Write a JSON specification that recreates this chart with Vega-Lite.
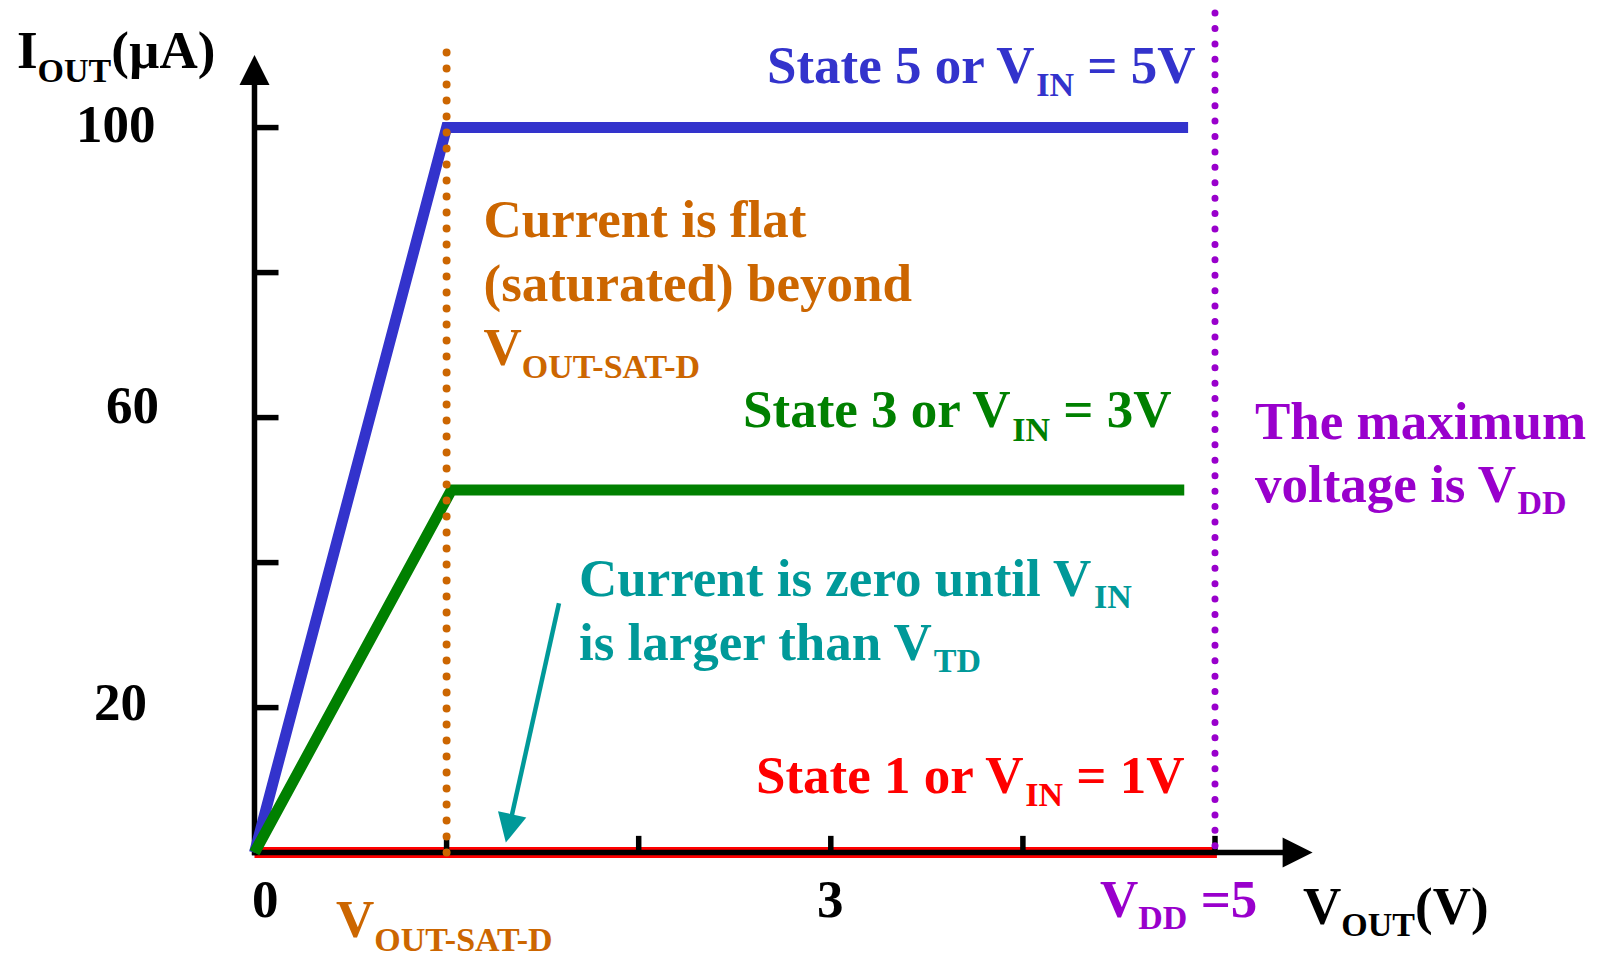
{
  "$schema": "https://vega.github.io/schema/vega-lite/v6.json",
  "autosize": {"type": "fit", "contains": "padding"},
  "width": 1599,
  "height": 958,
  "padding": 0,
  "background": "#ffffff",
  "config": {"view": {"stroke": null}},
  "datasets": {
    "red": [
      {"x": 0, "y": 0, "i": 0, "c": "s1"},
      {"x": 5.01, "y": 0, "i": 1, "c": "s1"}
    ],
    "curves": [
      {"x": 0, "y": 0, "i": 0, "c": "s5"},
      {"x": 1.0, "y": 100, "i": 1, "c": "s5"},
      {"x": 4.86, "y": 100, "i": 2, "c": "s5"},
      {"x": 0, "y": 0, "i": 0, "c": "s3"},
      {"x": 1.025, "y": 50, "i": 1, "c": "s3"},
      {"x": 4.84, "y": 50, "i": 2, "c": "s3"}
    ],
    "axisrules": [
      {"x": 0, "y": -0.35, "x2": 0, "y2": 105.9},
      {"x": -0.013, "y": 0, "x2": 5.36, "y2": 0},
      {"x": 0, "y": 20, "x2": 0.125, "y2": 20},
      {"x": 0, "y": 40, "x2": 0.125, "y2": 40},
      {"x": 0, "y": 60, "x2": 0.125, "y2": 60},
      {"x": 0, "y": 80, "x2": 0.125, "y2": 80},
      {"x": 0, "y": 100, "x2": 0.125, "y2": 100},
      {"x": 1, "y": 0, "x2": 1, "y2": 2.31},
      {"x": 2, "y": 0, "x2": 2, "y2": 2.31},
      {"x": 3, "y": 0, "x2": 3, "y2": 2.31},
      {"x": 4, "y": 0, "x2": 4, "y2": 2.31},
      {"x": 5, "y": 0, "x2": 5, "y2": 2.31}
    ],
    "satline": [{"x": 1.0, "y": 0, "x2": 1.0, "y2": 110.6}],
    "vddline": [{"x": 5.0, "y": 0.94, "x2": 5.0, "y2": 116.1}],
    "yhead": [{"x": 0, "y": 107.95}],
    "xhead": [{"x": 5.43, "y": 0}],
    "tealshaft": [{"x": 1.5851, "y": 34.38, "x2": 1.3248, "y2": 3.38, "c": "zero"}],
    "tealhead": [{"x": 1.3248, "y": 3.33, "c": "zero"}],
    "maintext": [
      {"t": "I", "x": -1.2363, "y": 108.23, "c": "axis"},
      {"t": "(µA)", "x": -0.7454, "y": 108.23, "c": "axis"},
      {"t": "100", "x": -0.9292, "y": 98.07, "c": "axis"},
      {"t": "60", "x": -0.773, "y": 59.24, "c": "axis"},
      {"t": "20", "x": -0.8355, "y": 18.26, "c": "axis"},
      {"t": "0", "x": -0.013, "y": -8.89, "c": "axis"},
      {"t": "3", "x": 2.928, "y": -8.89, "c": "axis"},
      {"t": "V", "x": 5.4581, "y": -9.85, "c": "axis"},
      {"t": "(V)", "x": 6.0411, "y": -9.85, "c": "axis"},
      {"t": "V", "x": 0.4243, "y": -11.64, "c": "sat"},
      {"t": "Current is flat", "x": 1.1921, "y": 84.94, "c": "sat"},
      {"t": "(saturated) beyond", "x": 1.1921, "y": 76.05, "c": "sat"},
      {"t": "V", "x": 1.1921, "y": 67.31, "c": "sat"},
      {"t": "V", "x": 4.4014, "y": -8.89, "c": "vdd"},
      {"t": "=5", "x": 4.9254, "y": -8.89, "c": "vdd"},
      {"t": "The maximum", "x": 5.2082, "y": 57.11, "c": "vdd"},
      {"t": "voltage is V", "x": 5.2082, "y": 48.29, "c": "vdd"},
      {"t": "State 5 or V", "x": 2.6679, "y": 106.16, "c": "s5"},
      {"t": "= 5V", "x": 4.3352, "y": 106.16, "c": "s5"},
      {"t": "State 3 or V", "x": 2.543, "y": 58.76, "c": "s3"},
      {"t": "= 3V", "x": 4.2103, "y": 58.76, "c": "s3"},
      {"t": "State 1 or V", "x": 2.6106, "y": 8.2, "c": "s1"},
      {"t": "= 1V", "x": 4.2782, "y": 8.2, "c": "s1"},
      {"t": "Current is zero until V", "x": 1.6892, "y": 35.34, "c": "zero"},
      {"t": "is larger than V", "x": 1.6892, "y": 26.52, "c": "zero"}
    ],
    "subtext": [
      {"t": "OUT", "x": -1.1291, "y": 106.3, "c": "axis"},
      {"t": "OUT", "x": 5.6575, "y": -11.5, "c": "axis"},
      {"t": "OUT-SAT-D", "x": 0.6236, "y": -13.57, "c": "sat"},
      {"t": "OUT-SAT-D", "x": 1.3915, "y": 65.51, "c": "sat"},
      {"t": "DD", "x": 4.6007, "y": -10.54, "c": "vdd"},
      {"t": "DD", "x": 6.575, "y": 46.64, "c": "vdd"},
      {"t": "IN", "x": 4.0697, "y": 104.37, "c": "s5"},
      {"t": "IN", "x": 3.9448, "y": 56.83, "c": "s3"},
      {"t": "IN", "x": 4.0125, "y": 6.41, "c": "s1"},
      {"t": "IN", "x": 4.37, "y": 33.69, "c": "zero"},
      {"t": "TD", "x": 3.5362, "y": 24.87, "c": "zero"}
    ]
  },
  "encoding": {
    "x": {"field": "x", "type": "quantitative", "scale": {"domain": [-1.3248, 6.999], "nice": false, "zero": false}, "axis": null},
    "y": {"field": "y", "type": "quantitative", "scale": {"domain": [-14.398, 117.595], "nice": false, "zero": false}, "axis": null}
  },
  "layer": [
    {
      "data": {"name": "red"},
      "mark": {"type": "line", "strokeWidth": 11, "strokeCap": "butt", "clip": false},
      "encoding": {
        "order": {"field": "i", "type": "quantitative"},
        "color": {"field": "c", "type": "nominal", "scale": {"domain": ["axis", "s5", "s3", "s1", "sat", "zero", "vdd"], "range": ["#000000", "#3333CC", "#008000", "#FF0000", "#CC6600", "#009999", "#9900CC"]}, "legend": null}
      }
    },
    {
      "data": {"name": "axisrules"},
      "mark": {"type": "rule", "color": "#000000", "strokeWidth": 5.5, "strokeCap": "butt"},
      "encoding": {
        "x2": {"field": "x2"},
        "y2": {"field": "y2"}
      }
    },
    {
      "data": {"name": "curves"},
      "mark": {"type": "line", "strokeWidth": 11, "strokeCap": "butt", "strokeJoin": "miter", "clip": false},
      "encoding": {
        "order": {"field": "i", "type": "quantitative"},
        "detail": {"field": "c", "type": "nominal"},
        "color": {"field": "c", "type": "nominal", "scale": {"domain": ["axis", "s5", "s3", "s1", "sat", "zero", "vdd"], "range": ["#000000", "#3333CC", "#008000", "#FF0000", "#CC6600", "#009999", "#9900CC"]}, "legend": null}
      }
    },
    {
      "data": {"name": "satline"},
      "mark": {"type": "rule", "color": "#CC6600", "strokeWidth": 8, "strokeCap": "round", "strokeDash": [0, 16]},
      "encoding": {"x2": {"field": "x2"}, "y2": {"field": "y2"}}
    },
    {
      "data": {"name": "vddline"},
      "mark": {"type": "rule", "color": "#9900CC", "strokeWidth": 7, "strokeCap": "round", "strokeDash": [0, 15.42]},
      "encoding": {"x2": {"field": "x2"}, "y2": {"field": "y2"}}
    },
    {
      "data": {"name": "yhead"},
      "mark": {"type": "point", "shape": "M-1,1L1,1L0,-1Z", "size": 900, "filled": true, "opacity": 1, "color": "#000000", "strokeWidth": 0}
    },
    {
      "data": {"name": "xhead"},
      "mark": {"type": "point", "shape": "M-1,-1L1,0L-1,1Z", "size": 900, "filled": true, "opacity": 1, "color": "#000000", "strokeWidth": 0}
    },
    {
      "data": {"name": "tealshaft"},
      "mark": {"type": "rule", "color": "#009999", "strokeWidth": 4.5, "strokeCap": "butt"},
      "encoding": {"x2": {"field": "x2"}, "y2": {"field": "y2"}}
    },
    {
      "data": {"name": "tealhead"},
      "mark": {"type": "point", "shape": "M-1,-1L1,-1L0,1Z", "size": 841, "angle": 12.5, "filled": true, "opacity": 1, "color": "#009999", "strokeWidth": 0}
    },
    {
      "data": {"name": "maintext"},
      "mark": {"type": "text", "font": "Liberation Serif", "fontWeight": "bold", "fontSize": 53, "align": "left", "baseline": "alphabetic"},
      "encoding": {
        "text": {"field": "t", "type": "nominal"},
        "color": {"field": "c", "type": "nominal", "scale": {"domain": ["axis", "s5", "s3", "s1", "sat", "zero", "vdd"], "range": ["#000000", "#3333CC", "#008000", "#FF0000", "#CC6600", "#009999", "#9900CC"]}, "legend": null}
      }
    },
    {
      "data": {"name": "subtext"},
      "mark": {"type": "text", "font": "Liberation Serif", "fontWeight": "bold", "fontSize": 34, "align": "left", "baseline": "alphabetic"},
      "encoding": {
        "text": {"field": "t", "type": "nominal"},
        "color": {"field": "c", "type": "nominal", "scale": {"domain": ["axis", "s5", "s3", "s1", "sat", "zero", "vdd"], "range": ["#000000", "#3333CC", "#008000", "#FF0000", "#CC6600", "#009999", "#9900CC"]}, "legend": null}
      }
    }
  ]
}
